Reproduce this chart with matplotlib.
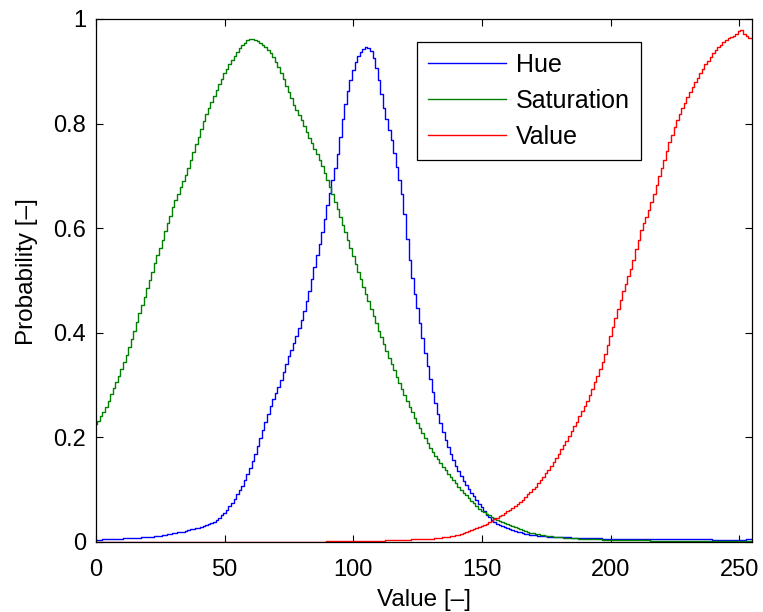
import numpy as np
import matplotlib
matplotlib.use("Agg")
import matplotlib.pyplot as plt

# histogram bins 0..255
bins = np.arange(256)

hue = [
    0.003, 0.004, 0.004, 0.005, 0.005, 0.005, 0.005, 0.006, 0.006, 0.006,
    0.006, 0.007, 0.007, 0.007, 0.008, 0.008, 0.008, 0.008, 0.009, 0.009,
    0.009, 0.010, 0.010, 0.011, 0.011, 0.012, 0.013, 0.014, 0.015, 0.016,
    0.017, 0.018, 0.019, 0.019, 0.020, 0.021, 0.022, 0.024, 0.025, 0.026,
    0.027, 0.028, 0.030, 0.032, 0.034, 0.036, 0.039, 0.042, 0.046, 0.051,
    0.056, 0.062, 0.068, 0.075, 0.083, 0.091, 0.099, 0.108, 0.119, 0.130,
    0.142, 0.155, 0.169, 0.184, 0.199, 0.215, 0.230, 0.245, 0.260, 0.273,
    0.285, 0.297, 0.310, 0.325, 0.340, 0.355, 0.368, 0.381, 0.394, 0.410,
    0.425, 0.442, 0.460, 0.480, 0.503, 0.525, 0.548, 0.570, 0.593, 0.618,
    0.645, 0.668, 0.692, 0.715, 0.742, 0.775, 0.808, 0.838, 0.862, 0.883,
    0.902, 0.918, 0.929, 0.936, 0.942, 0.947, 0.945, 0.938, 0.925, 0.906,
    0.883, 0.856, 0.830, 0.808, 0.788, 0.768, 0.743, 0.717, 0.692, 0.665,
    0.628, 0.580, 0.540, 0.505, 0.475, 0.447, 0.418, 0.390, 0.362, 0.336,
    0.311, 0.287, 0.265, 0.245, 0.227, 0.210, 0.195, 0.181, 0.168, 0.156,
    0.145, 0.135, 0.126, 0.117, 0.109, 0.101, 0.094, 0.087, 0.080, 0.073,
    0.066, 0.059, 0.052, 0.047, 0.042, 0.038, 0.035, 0.032, 0.030, 0.028,
    0.026, 0.024, 0.022, 0.021, 0.020, 0.019, 0.017, 0.016, 0.015, 0.014,
    0.013, 0.013, 0.012, 0.012, 0.011, 0.011, 0.010, 0.010, 0.010, 0.010,
    0.010, 0.009, 0.009, 0.009, 0.009, 0.008, 0.008, 0.008, 0.008, 0.008,
    0.007, 0.007, 0.007, 0.007, 0.007, 0.007, 0.007, 0.006, 0.006, 0.006,
    0.006, 0.006, 0.006, 0.006, 0.006, 0.006, 0.006, 0.006, 0.006, 0.006,
    0.005, 0.005, 0.005, 0.005, 0.005, 0.005, 0.005, 0.005, 0.005, 0.005,
    0.005, 0.005, 0.005, 0.005, 0.005, 0.005, 0.005, 0.005, 0.005, 0.005,
    0.005, 0.005, 0.005, 0.005, 0.005, 0.005, 0.005, 0.005, 0.005, 0.005,
    0.004, 0.004, 0.004, 0.004, 0.004, 0.004, 0.004, 0.004, 0.004, 0.004,
    0.004, 0.004, 0.004, 0.005, 0.005, 0.005,
]

saturation = [
    0.225, 0.232, 0.240, 0.249, 0.258, 0.270, 0.282, 0.294, 0.306, 0.318,
    0.330, 0.344, 0.358, 0.373, 0.388, 0.404, 0.420, 0.437, 0.453, 0.469,
    0.485, 0.501, 0.517, 0.533, 0.548, 0.563, 0.578, 0.594, 0.609, 0.624,
    0.640, 0.653, 0.666, 0.678, 0.690, 0.702, 0.716, 0.730, 0.745, 0.760,
    0.775, 0.790, 0.805, 0.818, 0.830, 0.842, 0.853, 0.864, 0.875, 0.886,
    0.896, 0.905, 0.914, 0.922, 0.930, 0.937, 0.944, 0.950, 0.955, 0.959,
    0.962, 0.962, 0.960, 0.958, 0.955, 0.951, 0.946, 0.940, 0.934, 0.927,
    0.918, 0.908, 0.897, 0.885, 0.872, 0.860, 0.848, 0.836, 0.826, 0.816,
    0.806, 0.796, 0.784, 0.773, 0.762, 0.751, 0.741, 0.731, 0.719, 0.706,
    0.692, 0.679, 0.665, 0.651, 0.636, 0.621, 0.606, 0.592, 0.577, 0.562,
    0.547, 0.532, 0.517, 0.502, 0.488, 0.474, 0.460, 0.446, 0.432, 0.418,
    0.404, 0.391, 0.378, 0.365, 0.352, 0.340, 0.328, 0.316, 0.304, 0.292,
    0.281, 0.270, 0.259, 0.248, 0.238, 0.228, 0.218, 0.208, 0.198, 0.189,
    0.180, 0.172, 0.165, 0.158, 0.151, 0.144, 0.137, 0.130, 0.124, 0.118,
    0.112, 0.106, 0.100, 0.094, 0.089, 0.084, 0.079, 0.074, 0.069, 0.064,
    0.060, 0.057, 0.054, 0.051, 0.048, 0.045, 0.042, 0.040, 0.038, 0.036,
    0.034, 0.032, 0.030, 0.028, 0.026, 0.025, 0.023, 0.021, 0.020, 0.018,
    0.017, 0.016, 0.015, 0.014, 0.013, 0.012, 0.011, 0.011, 0.010, 0.010,
    0.009, 0.009, 0.008, 0.008, 0.008, 0.007, 0.007, 0.007, 0.006, 0.006,
    0.006, 0.006, 0.005, 0.005, 0.005, 0.005, 0.005, 0.004, 0.004, 0.004,
    0.004, 0.004, 0.004, 0.003, 0.003, 0.003, 0.003, 0.003, 0.003, 0.003,
    0.003, 0.003, 0.003, 0.003, 0.003, 0.003, 0.002, 0.002, 0.002, 0.002,
    0.002, 0.002, 0.002, 0.002, 0.002, 0.002, 0.002, 0.002, 0.002, 0.002,
    0.002, 0.002, 0.002, 0.002, 0.002, 0.001, 0.001, 0.001, 0.001, 0.001,
    0.001, 0.001, 0.001, 0.001, 0.001, 0.001, 0.001, 0.001, 0.001, 0.001,
    0.001, 0.001, 0.001, 0.001, 0.001, 0.001,
]

value = [
    0.000, 0.000, 0.000, 0.000, 0.000, 0.000, 0.000, 0.000, 0.000, 0.000,
    0.000, 0.000, 0.000, 0.000, 0.000, 0.000, 0.000, 0.000, 0.000, 0.000,
    0.000, 0.000, 0.000, 0.000, 0.000, 0.000, 0.000, 0.000, 0.000, 0.000,
    0.000, 0.000, 0.000, 0.000, 0.000, 0.000, 0.000, 0.000, 0.000, 0.000,
    0.000, 0.000, 0.000, 0.000, 0.000, 0.000, 0.000, 0.000, 0.000, 0.000,
    0.000, 0.000, 0.000, 0.000, 0.000, 0.000, 0.000, 0.000, 0.000, 0.000,
    0.000, 0.000, 0.000, 0.000, 0.000, 0.000, 0.000, 0.000, 0.000, 0.000,
    0.000, 0.000, 0.000, 0.000, 0.000, 0.000, 0.000, 0.000, 0.000, 0.000,
    0.000, 0.000, 0.000, 0.000, 0.000, 0.000, 0.000, 0.000, 0.000, 0.000,
    0.001, 0.001, 0.001, 0.001, 0.001, 0.001, 0.001, 0.001, 0.001, 0.001,
    0.001, 0.001, 0.001, 0.001, 0.001, 0.001, 0.002, 0.002, 0.002, 0.002,
    0.002, 0.002, 0.002, 0.003, 0.003, 0.003, 0.003, 0.003, 0.004, 0.004,
    0.004, 0.004, 0.004, 0.005, 0.005, 0.005, 0.005, 0.006, 0.006, 0.006,
    0.006, 0.006, 0.007, 0.007, 0.008, 0.009, 0.009, 0.010, 0.011, 0.012,
    0.013, 0.014, 0.016, 0.017, 0.019, 0.021, 0.023, 0.025, 0.027, 0.029,
    0.031, 0.033, 0.035, 0.038, 0.040, 0.043, 0.046, 0.049, 0.052, 0.056,
    0.059, 0.062, 0.065, 0.069, 0.073, 0.077, 0.081, 0.086, 0.091, 0.096,
    0.101, 0.106, 0.112, 0.118, 0.124, 0.131, 0.138, 0.145, 0.153, 0.161,
    0.169, 0.177, 0.185, 0.194, 0.203, 0.212, 0.221, 0.230, 0.240, 0.250,
    0.260, 0.270, 0.281, 0.293, 0.305, 0.318, 0.331, 0.344, 0.360, 0.377,
    0.394, 0.412, 0.429, 0.446, 0.463, 0.479, 0.494, 0.508, 0.521, 0.540,
    0.560, 0.578, 0.596, 0.610, 0.622, 0.634, 0.650, 0.666, 0.683, 0.700,
    0.715, 0.730, 0.747, 0.764, 0.779, 0.793, 0.806, 0.818, 0.829, 0.840,
    0.850, 0.860, 0.869, 0.879, 0.888, 0.897, 0.905, 0.913, 0.920, 0.927,
    0.934, 0.940, 0.946, 0.951, 0.956, 0.960, 0.963, 0.966, 0.968, 0.972,
    0.977, 0.978, 0.972, 0.967, 0.964, 0.963,
]

x_ticks = [0, 50, 100, 150, 200, 250]
y_ticks = [0, 0.2, 0.4, 0.6, 0.8, 1]
y_tick_labels = ["0", "0.2", "0.4", "0.6", "0.8", "1"]

plt.rcParams['font.family'] = ['Liberation Sans', 'DejaVu Sans']
fs_tick = 17
fs_label = 17.5
fs_leg = 18

fig = plt.figure(figsize=(7.63, 6.12), dpi=100)
ax = fig.add_axes([0.1258, 0.1144, 0.8598, 0.8546])

ax.step(bins, hue, where='mid', color='#0000ff', lw=1.0, label='Hue')
ax.step(bins, saturation, where='mid', color='#008000', lw=1.0, label='Saturation')
ax.step(bins, value, where='mid', color='#ff0000', lw=1.0, label='Value')

ax.set_xlim(0, 255)
ax.set_ylim(0, 1)
ax.set_xticks(x_ticks)
ax.set_yticks(y_ticks)
ax.set_yticklabels(y_tick_labels)
ax.tick_params(direction='in', top=True, right=True, length=5, width=0.8,
               labelsize=fs_tick)
ax.tick_params(axis='x', pad=12)
ax.tick_params(axis='y', pad=7)
for s in ax.spines.values():
    s.set_linewidth(0.9)

ax.set_xlabel("Value [–]", fontsize=fs_label, labelpad=6)
ax.set_ylabel("Probability [–]", fontsize=fs_label)
ax.yaxis.set_label_coords(-0.089, 0.518)

leg = ax.legend(loc='upper left', bbox_to_anchor=(0.489, 0.956), borderaxespad=0,
                fontsize=fs_leg, fancybox=False, framealpha=1, edgecolor='black',
                handlelength=3.1, handletextpad=0.4, labelspacing=0.48,
                borderpad=0.45)
leg.get_frame().set_linewidth(0.9)

plt.savefig("out.png", dpi=100)
